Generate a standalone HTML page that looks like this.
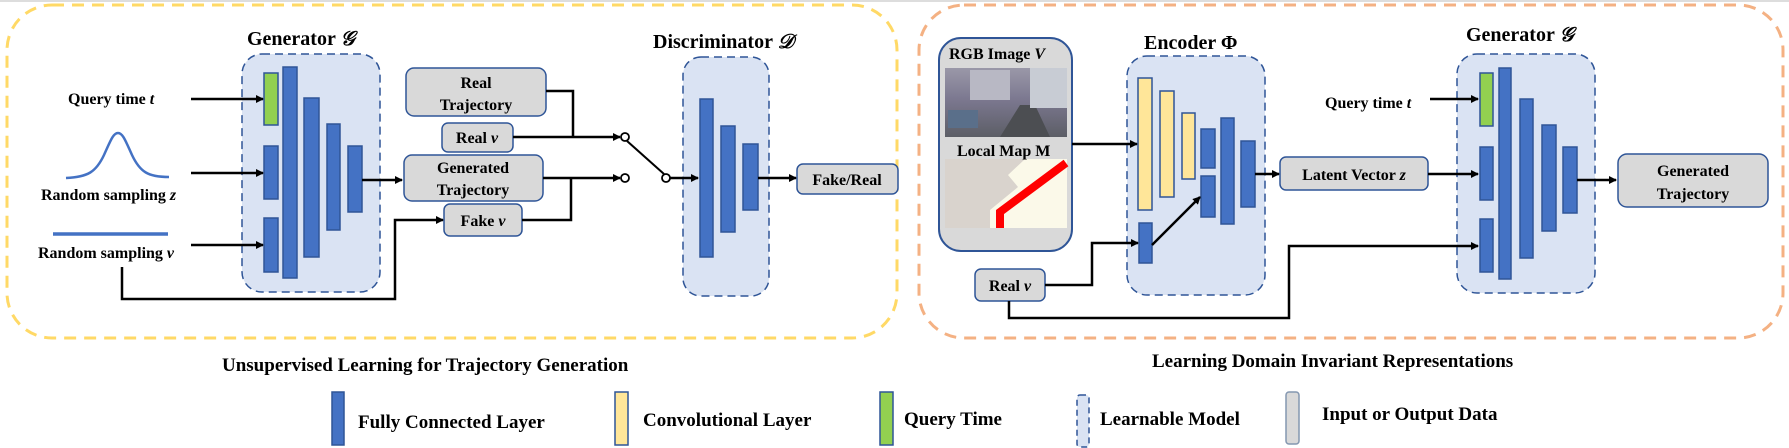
<!DOCTYPE html>
<html><head><meta charset="utf-8"><style>
html,body{margin:0;padding:0;background:#fff;}
svg{display:block;}
text{font-family:"Liberation Serif",serif;font-weight:bold;fill:#000;}
</style></head><body>
<svg width="1789" height="448" viewBox="0 0 1789 448" xmlns="http://www.w3.org/2000/svg">
<defs>
<marker id="ar" markerWidth="8" markerHeight="8" refX="7" refY="4" orient="auto" markerUnits="userSpaceOnUse"><path d="M0,0 L8,4 L0,8 Z" fill="#000"/></marker>
</defs>
<line x1="0" y1="1" x2="1789" y2="1" stroke="#ddd" stroke-width="2"/>
<rect x="7" y="5" width="890" height="333" rx="45" fill="none" stroke="#ffd966" stroke-width="3" stroke-dasharray="12,8"/>
<rect x="919" y="5" width="864" height="333" rx="45" fill="none" stroke="#f4b183" stroke-width="3" stroke-dasharray="12,8"/>

<g stroke="#2f5597" stroke-width="1.5">
<rect x="242" y="54" width="138" height="238" rx="20" fill="#dae3f3" stroke-dasharray="8,5"/>
<rect x="264" y="73" width="14" height="52" fill="#92d050"/>
<rect x="283" y="67" width="14" height="211" fill="#4472c4"/>
<rect x="304" y="98" width="15" height="159" fill="#4472c4"/>
<rect x="327" y="124" width="13" height="106" fill="#4472c4"/>
<rect x="348" y="146" width="14" height="66" fill="#4472c4"/>
<rect x="264" y="146" width="14" height="53" fill="#4472c4"/>
<rect x="264" y="218" width="14" height="54" fill="#4472c4"/>
<rect x="683" y="57" width="86" height="239" rx="18" fill="#dae3f3" stroke-dasharray="8,5"/>
<rect x="700" y="99" width="13" height="158" fill="#4472c4"/>
<rect x="721" y="126" width="14" height="106" fill="#4472c4"/>
<rect x="743" y="144" width="15" height="66" fill="#4472c4"/>
<rect x="406" y="68" width="140" height="48" rx="8" fill="#d9d9d9"/>
<rect x="442" y="123" width="71" height="29" rx="6" fill="#d9d9d9"/>
<rect x="404" y="155" width="139" height="46" rx="8" fill="#d9d9d9"/>
<rect x="444" y="204" width="78" height="32" rx="6" fill="#d9d9d9"/>
<rect x="797" y="164" width="101" height="30" rx="6" fill="#d9d9d9"/>
<rect x="939" y="38" width="133" height="213" rx="22" fill="#d9d9d9" stroke-width="2"/>
<rect x="1127" y="56" width="138" height="239" rx="20" fill="#dae3f3" stroke-dasharray="8,5"/>
<rect x="1138" y="78" width="14" height="132" fill="#ffe699"/>
<rect x="1160" y="91" width="14" height="106" fill="#ffe699"/>
<rect x="1182" y="113" width="13" height="66" fill="#ffe699"/>
<rect x="1201" y="129" width="14" height="39" fill="#4472c4"/>
<rect x="1201" y="176" width="14" height="41" fill="#4472c4"/>
<rect x="1221" y="118" width="13" height="106" fill="#4472c4"/>
<rect x="1241" y="141" width="14" height="66" fill="#4472c4"/>
<rect x="1139" y="223" width="13" height="40" fill="#4472c4"/>
<rect x="1457" y="54" width="138" height="239" rx="20" fill="#dae3f3" stroke-dasharray="8,5"/>
<rect x="1480" y="73" width="13" height="53" fill="#92d050"/>
<rect x="1499" y="68" width="12" height="211" fill="#4472c4"/>
<rect x="1520" y="99" width="13" height="159" fill="#4472c4"/>
<rect x="1542" y="125" width="14" height="106" fill="#4472c4"/>
<rect x="1563" y="147" width="14" height="66" fill="#4472c4"/>
<rect x="1480" y="147" width="13" height="53" fill="#4472c4"/>
<rect x="1480" y="219" width="13" height="53" fill="#4472c4"/>
<rect x="975" y="269" width="70" height="32" rx="6" fill="#d9d9d9"/>
<rect x="1280" y="157" width="148" height="33" rx="6" fill="#d9d9d9"/>
<rect x="1618" y="154" width="150" height="53" rx="9" fill="#d9d9d9"/>
<rect x="332" y="392" width="12" height="53" fill="#4472c4"/>
<rect x="615" y="392" width="13" height="53" fill="#ffe699"/>
<rect x="880" y="392" width="13" height="53" fill="#92d050"/>
<rect x="1077" y="395" width="12" height="52" rx="3" fill="#dae3f3" stroke-dasharray="6,4"/>
<rect x="1286" y="392" width="13" height="52" rx="3" fill="#d9d9d9" stroke="#8497b0"/>
</g>

<defs><linearGradient id="ph" x1="0" y1="0" x2="0" y2="1"><stop offset="0" stop-color="#9a98a8"/><stop offset="0.45" stop-color="#7c7890"/><stop offset="1" stop-color="#5c5e66"/></linearGradient></defs>
<rect x="945" y="68" width="122" height="69" fill="url(#ph)"/>
<rect x="970" y="70" width="40" height="30" fill="#b8b8c4"/>
<path d="M1000,137 L1020,105 L1035,105 L1050,137 Z" fill="#4c4e52"/>
<rect x="948" y="110" width="30" height="18" fill="#5a6f8a"/>
<rect x="1030" y="68" width="37" height="40" fill="#c8ccd4"/>
<rect x="945" y="159" width="122" height="69" fill="#fbf9e9"/>
<path d="M945,159 L1025,159 L1008,175 L1018,187 L990,210 L990,228 L945,228 Z" fill="#d9d3cd"/>
<path d="M1066,163 L1000,212 L1000,228" fill="none" stroke="#f00" stroke-width="8"/>

<g stroke="#000" stroke-width="2.5" fill="none">
<line x1="191" y1="99" x2="263" y2="99" marker-end="url(#ar)"/>
<line x1="191" y1="173" x2="263" y2="173" marker-end="url(#ar)"/>
<line x1="191" y1="245" x2="263" y2="245" marker-end="url(#ar)"/>
<polyline points="122,267 122,299 395,299 395,220 443,220" marker-end="url(#ar)"/>
<line x1="362" y1="180" x2="402" y2="180" marker-end="url(#ar)"/>
<polyline points="546,91 573,91 573,137"/>
<line x1="513" y1="137" x2="620" y2="137" marker-end="url(#ar)"/>
<line x1="543" y1="178" x2="620" y2="178" marker-end="url(#ar)"/>
<polyline points="522,220 571,220 571,178"/>
<line x1="627" y1="141" x2="664" y2="174" stroke-width="2"/>
<line x1="670" y1="178" x2="698" y2="178" marker-end="url(#ar)"/>
<line x1="758" y1="178" x2="796" y2="178" marker-end="url(#ar)"/>
<line x1="1072" y1="144" x2="1137" y2="144" marker-end="url(#ar)"/>
<polyline points="1045,285 1092,285 1092,243 1138,243" marker-end="url(#ar)"/>
<line x1="1152" y1="245" x2="1200" y2="197" marker-end="url(#ar)"/>
<polyline points="1009,301 1009,318 1289,318 1289,246 1478,246" marker-end="url(#ar)"/>
<line x1="1255" y1="174" x2="1279" y2="174" marker-end="url(#ar)"/>
<line x1="1428" y1="174" x2="1478" y2="174" marker-end="url(#ar)"/>
<line x1="1430" y1="99" x2="1478" y2="99" marker-end="url(#ar)"/>
<line x1="1577" y1="180" x2="1616" y2="180" marker-end="url(#ar)"/>
</g>
<g fill="#fff" stroke="#000" stroke-width="1.8">
<circle cx="625" cy="137" r="4"/><circle cx="625" cy="178" r="4"/><circle cx="666" cy="178" r="4"/>
</g>
<path d="M66,178 C88,177 96,172 104,155 C110,142 113,133 118,133 C123,133 126,142 132,155 C140,172 148,177 169,177" fill="none" stroke="#4472c4" stroke-width="2.5"/>
<line x1="53" y1="234" x2="168" y2="234" stroke="#4472c4" stroke-width="3.5"/>

<g font-size="20">
<text x="247" y="45">Generator <tspan font-style="italic">𝒢</tspan></text>
<text x="653" y="48">Discriminator <tspan font-style="italic">𝒟</tspan></text>
<text x="1144" y="49">Encoder Φ</text>
<text x="1466" y="41">Generator <tspan font-style="italic">𝒢</tspan></text>
</g>
<g font-size="16">
<text x="68" y="104">Query time <tspan font-style="italic">t</tspan></text>
<text x="41" y="200">Random sampling <tspan font-style="italic">z</tspan></text>
<text x="38" y="258">Random sampling <tspan font-style="italic">v</tspan></text>
<text x="476" y="88" text-anchor="middle">Real</text>
<text x="476" y="110" text-anchor="middle">Trajectory</text>
<text x="477" y="143" text-anchor="middle">Real <tspan font-style="italic">v</tspan></text>
<text x="473" y="173" text-anchor="middle">Generated</text>
<text x="473" y="195" text-anchor="middle">Trajectory</text>
<text x="483" y="226" text-anchor="middle">Fake <tspan font-style="italic">v</tspan></text>
<text x="847" y="185" text-anchor="middle">Fake/Real</text>
<text x="949" y="59">RGB Image <tspan font-style="italic">V</tspan></text>
<text x="957" y="156">Local Map M</text>
<text x="1010" y="291" text-anchor="middle">Real <tspan font-style="italic">v</tspan></text>
<text x="1354" y="180" text-anchor="middle">Latent Vector <tspan font-style="italic">z</tspan></text>
<text x="1325" y="108">Query time <tspan font-style="italic">t</tspan></text>
<text x="1693" y="176" text-anchor="middle">Generated</text>
<text x="1693" y="199" text-anchor="middle">Trajectory</text>
</g>
<g font-size="19">
<text x="222" y="371">Unsupervised Learning for Trajectory Generation</text>
<text x="1152" y="367">Learning Domain Invariant Representations</text>
<text x="358" y="428">Fully Connected Layer</text>
<text x="643" y="426">Convolutional Layer</text>
<text x="904" y="425">Query Time</text>
<text x="1100" y="425">Learnable Model</text>
<text x="1322" y="420">Input or Output Data</text>
</g>
</svg>
</body></html>
